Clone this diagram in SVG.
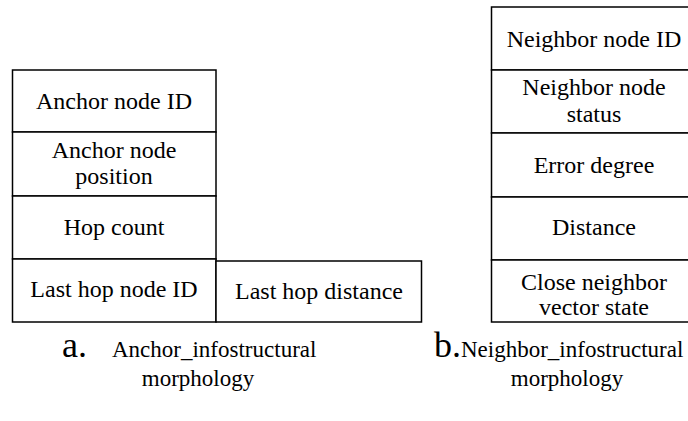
<svg xmlns="http://www.w3.org/2000/svg" width="688" height="421" viewBox="0 0 688 421">
<rect width="688" height="421" fill="#fff"/>
<g id="anchor-structure" fill="#fff" stroke="#000" stroke-width="1.5">
<g id="anchor-node-id"><rect x="12.5" y="70" width="203.5" height="62"/><text font-family="Liberation Serif" font-size="24" text-anchor="middle" fill="#000" stroke="none" x="114" y="109">Anchor node ID</text></g>
<g id="anchor-node-position"><rect x="12.5" y="132" width="203.5" height="64"/><text font-family="Liberation Serif" font-size="24" text-anchor="middle" fill="#000" stroke="none" x="114" y="158">Anchor node</text><text font-family="Liberation Serif" font-size="24" text-anchor="middle" fill="#000" stroke="none" x="114" y="184">position</text></g>
<g id="hop-count"><rect x="12.5" y="196" width="203.5" height="63"/><text font-family="Liberation Serif" font-size="24" text-anchor="middle" fill="#000" stroke="none" x="114" y="235">Hop count</text></g>
<g id="last-hop-node-id"><rect x="12.5" y="259" width="203.5" height="63"/><text font-family="Liberation Serif" font-size="24" text-anchor="middle" fill="#000" stroke="none" x="114" y="297">Last hop node ID</text></g>
<g id="last-hop-distance"><rect x="216" y="261" width="205.5" height="61"/><text font-family="Liberation Serif" font-size="24" text-anchor="middle" fill="#000" stroke="none" x="319" y="299">Last hop distance</text></g>
</g>
<g id="neighbor-structure" fill="#fff" stroke="#000" stroke-width="1.5">
<g id="neighbor-node-id"><rect x="491.5" y="7" width="202" height="63"/><text font-family="Liberation Serif" font-size="24" text-anchor="middle" fill="#000" stroke="none" x="594" y="47">Neighbor node ID</text></g>
<g id="neighbor-node-status"><rect x="491.5" y="70" width="202" height="63"/><text font-family="Liberation Serif" font-size="24" text-anchor="middle" fill="#000" stroke="none" x="594" y="95">Neighbor node</text><text font-family="Liberation Serif" font-size="24" text-anchor="middle" fill="#000" stroke="none" x="594" y="122">status</text></g>
<g id="error-degree"><rect x="491.5" y="133" width="202" height="64"/><text font-family="Liberation Serif" font-size="24" text-anchor="middle" fill="#000" stroke="none" x="594" y="173">Error degree</text></g>
<g id="distance"><rect x="491.5" y="197" width="202" height="63"/><text font-family="Liberation Serif" font-size="24" text-anchor="middle" fill="#000" stroke="none" x="594" y="235">Distance</text></g>
<g id="close-neighbor"><rect x="491.5" y="260" width="202" height="62"/><text font-family="Liberation Serif" font-size="24" text-anchor="middle" fill="#000" stroke="none" x="594" y="290">Close neighbor</text><text font-family="Liberation Serif" font-size="24" text-anchor="middle" fill="#000" stroke="none" x="594" y="315">vector state</text></g>
</g>
<g id="connectors"/>
<g id="captions" fill="#000">
<text font-family="Liberation Serif" font-size="36" x="62" y="357">a.</text>
<text font-family="Liberation Serif" font-size="23" x="112" y="357">Anchor_infostructural</text>
<text font-family="Liberation Serif" font-size="23" text-anchor="middle" x="198" y="386">morphology</text>
<text font-family="Liberation Serif" font-size="36" x="434" y="357">b.</text>
<text font-family="Liberation Serif" font-size="23" x="461" y="357">Neighbor_infostructural</text>
<text font-family="Liberation Serif" font-size="23" text-anchor="middle" x="567" y="386">morphology</text>
</g>
</svg>
